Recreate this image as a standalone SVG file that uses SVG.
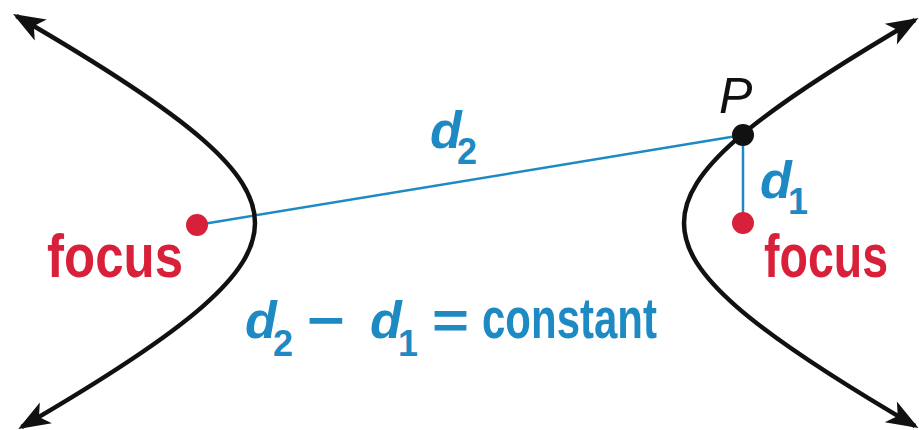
<svg xmlns="http://www.w3.org/2000/svg" width="919" height="430" viewBox="0 0 919 430">
  <style>
    .curve { fill: none; stroke: #111; stroke-width: 4.5; }
    .seg { stroke: #1d8ac3; stroke-width: 2.5; fill: none; }
    .focus { fill: #d8203a; font-family: "Liberation Sans Narrow", "Liberation Sans", "DejaVu Sans Condensed", sans-serif; font-weight: bold; font-size: 62px; }
    .blue { fill: #1d8ac3; font-family: "Liberation Sans Narrow", "Liberation Sans", "DejaVu Sans Condensed", sans-serif; font-weight: bold; }
    .it { font-style: italic; }
    .plabel { fill: #111; font-family: "Liberation Sans", "DejaVu Sans", sans-serif; font-style: italic; font-size: 50px; }
  </style>
  <defs>
    <marker id="arrow" markerUnits="userSpaceOnUse" markerWidth="40" markerHeight="30" viewBox="-32 -15 40 30" refX="0" refY="0" orient="auto-start-reverse">
      <path d="M4,0 L-28,-12 L-20,0 L-28,12 Z" fill="#111"/>
    </marker>
  </defs>

  <g id="connectors">
    <line id="d2-line" class="seg" x1="197" y1="225" x2="743" y2="135"/>
    <line id="d1-line" class="seg" x1="743" y1="135" x2="743" y2="223"/>
  </g>

  <g id="left-branch">
    <path class="curve" marker-start="url(#arrow)" marker-end="url(#arrow)" d="M16.5,16 C108.05,68.91 165.51,107.05 202.49,139.39 C238.72,171.08 255,197 255,223 C255,249 238.72,274.92 202.49,306.61 C166.21,338.34 110.16,375.66 21.65,427"/>
  </g>

  <g id="right-branch">
    <path class="curve" marker-start="url(#arrow)" marker-end="url(#arrow)" d="M915,20 C828.84,70.34 772.79,107.66 736.51,139.39 C700.28,171.08 684,197 684,223 C684,249 700.28,274.92 736.51,306.61 C772.79,338.34 828.84,375.66 915,426"/>
  </g>

  <g id="left-focus">
    <circle cx="197" cy="225" r="11" fill="#d8203a"/>
    <text class="focus" x="47" y="277" textLength="136" lengthAdjust="spacingAndGlyphs">focus</text>
  </g>

  <g id="right-focus">
    <circle cx="743" cy="223" r="11" fill="#d8203a"/>
    <text class="focus" x="764" y="277" textLength="124" lengthAdjust="spacingAndGlyphs">focus</text>
  </g>

  <g id="point-P">
    <circle cx="743" cy="135" r="11" fill="#111"/>
    <text class="plabel" x="719" y="113">P</text>
  </g>

  <g id="label-d2">
    <text class="blue" x="430" y="148"><tspan class="it" font-size="52">d</tspan><tspan x="457" y="164" font-size="36">2</tspan></text>
  </g>

  <g id="label-d1">
    <text class="blue" x="760" y="198"><tspan class="it" font-size="52">d</tspan><tspan x="788" y="214" font-size="36">1</tspan></text>
  </g>

  <g id="equation">
    <text class="blue" y="338">
      <tspan class="it" x="245" font-size="52">d</tspan>
      <tspan x="273" y="356" font-size="36">2</tspan>
      <tspan x="307" y="338" font-size="52" textLength="38" lengthAdjust="spacingAndGlyphs">−</tspan>
      <tspan class="it" x="370" font-size="52">d</tspan>
      <tspan x="398" y="356" font-size="36">1</tspan>
      <tspan x="432" y="338" font-size="52" textLength="37" lengthAdjust="spacingAndGlyphs">=</tspan>
      <tspan x="482" font-size="58" textLength="175" lengthAdjust="spacingAndGlyphs">constant</tspan>
    </text>
  </g>
</svg>
